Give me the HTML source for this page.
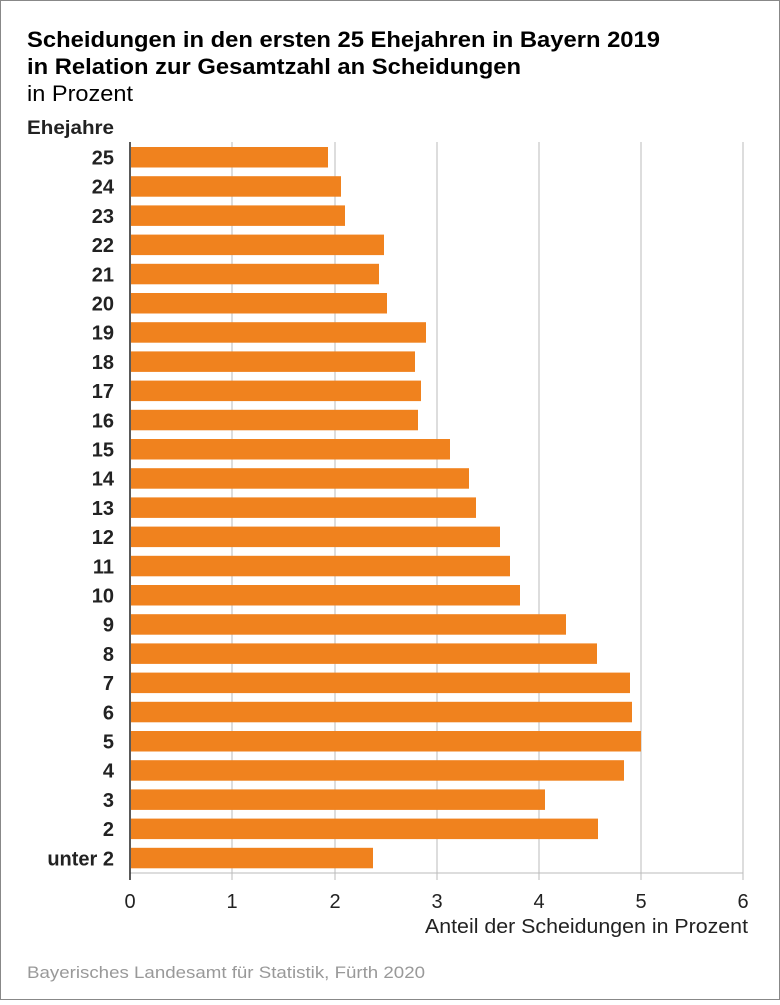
<!DOCTYPE html><html><head><style>body{margin:0;background:#fff}</style></head><body>
<svg width="780" height="1000" xmlns="http://www.w3.org/2000/svg" font-family="Liberation Sans, Arial, sans-serif">
<rect x="0.5" y="0.5" width="779" height="999" fill="#fff" stroke="#888"/>
<text x="27" y="47" font-size="22" font-weight="bold" fill="#000" textLength="633" lengthAdjust="spacingAndGlyphs">Scheidungen in den ersten 25 Ehejahren in Bayern 2019</text>
<text x="27" y="74" font-size="22" font-weight="bold" fill="#000" textLength="494" lengthAdjust="spacingAndGlyphs">in Relation zur Gesamtzahl an Scheidungen</text>
<text x="27" y="101" font-size="22" fill="#000" textLength="106" lengthAdjust="spacingAndGlyphs">in Prozent</text>
<text x="27" y="134" font-size="19" font-weight="bold" fill="#222" textLength="87" lengthAdjust="spacingAndGlyphs">Ehejahre</text>
<g stroke="#bbb" stroke-width="1">
<line x1="232" y1="142" x2="232" y2="880"/><line x1="335" y1="142" x2="335" y2="880"/><line x1="437" y1="142" x2="437" y2="880"/><line x1="539" y1="142" x2="539" y2="880"/><line x1="641" y1="142" x2="641" y2="880"/><line x1="743" y1="142" x2="743" y2="880"/>
<line x1="130" y1="873" x2="743" y2="873"/>
</g>
<line x1="130" y1="142" x2="130" y2="880" stroke="#222" stroke-width="1.5"/>
<g fill="#f0821e" id="bars"></g>
<g font-size="20" font-weight="bold" fill="#222" text-anchor="end" id="labs"></g>
<g font-size="20" fill="#222" text-anchor="middle">
<text x="130" y="908">0</text><text x="232" y="908">1</text><text x="335" y="908">2</text><text x="437" y="908">3</text><text x="539" y="908">4</text><text x="641" y="908">5</text><text x="743" y="908">6</text>
</g>
<text x="425" y="933" font-size="20" fill="#222" textLength="323" lengthAdjust="spacingAndGlyphs">Anteil der Scheidungen in Prozent</text>
<text x="27" y="978" font-size="17" fill="#999" textLength="398" lengthAdjust="spacingAndGlyphs">Bayerisches Landesamt für Statistik, Fürth 2020</text>
<script>
var ends=[328,341,345,384,379,387,426,415,421,418,450,469,476,500,510,520,566,597,630,632,641,624,545,598,373];
var labs=["25","24","23","22","21","20","19","18","17","16","15","14","13","12","11","10","9","8","7","6","5","4","3","2","unter 2"];
var b=document.getElementById("bars"),l=document.getElementById("labs"),ns="http://www.w3.org/2000/svg";
for(var i=0;i<25;i++){var y=147+i*29.2;var r=document.createElementNS(ns,"rect");r.setAttribute("x",131);r.setAttribute("y",y);r.setAttribute("width",ends[i]-131);r.setAttribute("height",20.5);b.appendChild(r);
var t=document.createElementNS(ns,"text");t.setAttribute("x",114);t.setAttribute("y",y+17.5);t.textContent=labs[i];l.appendChild(t);}
</script>
</svg></body></html>
